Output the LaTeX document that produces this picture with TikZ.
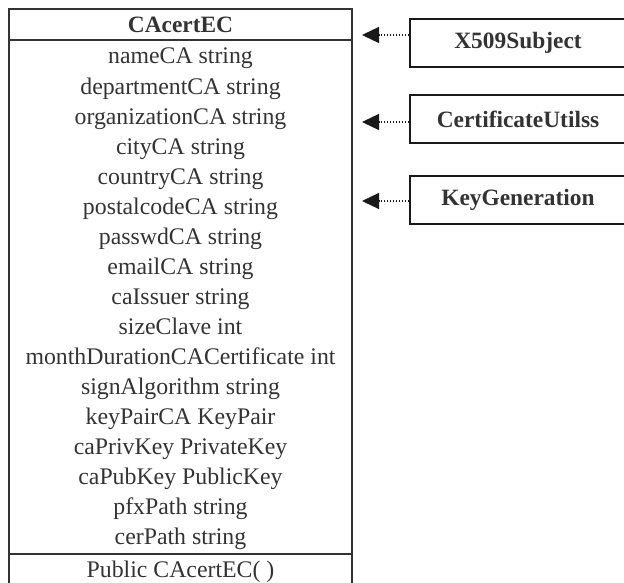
\documentclass[tikz,border=0pt]{standalone}
\usepackage{fontspec}
\setmainfont{Liberation Serif}
\usepackage{tikz}
\usetikzlibrary{arrows.meta,positioning,calc}
\definecolor{umlgray}{HTML}{333333}
\definecolor{umltext}{HTML}{333333}
\tikzset{
  umlline/.style={draw=umlgray, line width=1.6pt},
  attr/.style={anchor=base, text=umltext, inner sep=0pt, font=\fontsize{23.8}{30}\selectfont},
  depbox/.style={draw=black!90, line width=1.4pt, minimum width=216pt, minimum height=48pt,
    inner sep=0pt, text=umltext, font=\fontsize{23.4}{28}\selectfont\bfseries},
  deparrow/.style={draw=black!90, line width=1.3pt, dash pattern=on 1.5pt off 1.5pt,
    -{Triangle[length=17pt,width=16pt]}}
}
\begin{document}
\begin{tikzpicture}[x=1pt,y=-1pt]
    \useasboundingbox (0,0) rectangle (624,583);
    
    \draw[umlline] (9,583) -- (9,9) -- (352,9) -- (352,583); % class box, open at the bottom
    \draw[umlline] (9,40) -- (352,40);
    \draw[umlline] (9,554) -- (352,554);
    
    \node[attr, font=\fontsize{23.4}{28}\selectfont\bfseries] (cls) at (180.5,33) {CAcertEC};
    \foreach \txt [count=\i] in {nameCA string, departmentCA string, organizationCA string,
        cityCA string, countryCA string, postalcodeCA string, passwdCA string,
        emailCA string, caIssuer string, sizeClave int, monthDurationCACertificate int,
        signAlgorithm string, keyPairCA KeyPair, caPrivKey PrivateKey,
        caPubKey PublicKey, pfxPath string, cerPath string}
        \node[attr] (a\i) at (180.5,{64+30.06*(\i-1)}) {\txt};
    \node[attr] (ctor) at (180.5,577) {Public CAcertEC( )};
    
    \node[depbox] (subj) at (518,43) {X509Subject};
    \node[depbox] (util) at (518,119) {CertificateUtilss};
    \node[depbox] (keyg) at (518,200) {KeyGeneration};
    
    \coordinate (t1) at (362,35);
    \coordinate (t2) at (362,122);
    \coordinate (t3) at (362,201);
    \draw[deparrow] (subj.west |- t1) -- (t1);
    \draw[deparrow] (util.west |- t2) -- (t2);
    \draw[deparrow] (keyg.west |- t3) -- (t3);
\end{tikzpicture}
\end{document}
